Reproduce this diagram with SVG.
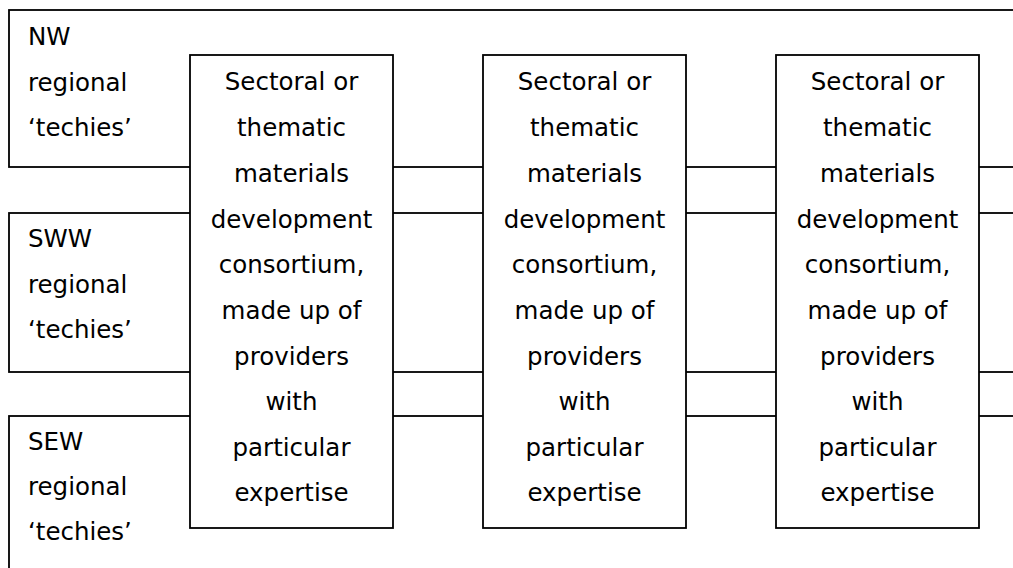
<svg xmlns="http://www.w3.org/2000/svg" width="1013" height="568" viewBox="0 0 1013 568">
  <style>
    .frame { fill: #ffffff; stroke: #000000; stroke-width: 1.8; }
    .lbl { font-family: "DejaVu Sans", Verdana, sans-serif; font-size: 24.5px; fill: #000000; }
    .mid { text-anchor: middle; }
  </style>
  <rect width="1013" height="568" fill="#ffffff"/>

  <!-- regional bands running under the consortium boxes -->
  <g id="band-nw">
    <rect class="frame" x="9" y="10" width="1100" height="157"/>
    <text class="lbl" x="28" y="45">NW</text>
    <text class="lbl" x="28" y="91">regional</text>
    <text class="lbl" x="28" y="136">‘techies’</text>
  </g>
  <g id="band-sww">
    <rect class="frame" x="9" y="213" width="1100" height="159"/>
    <text class="lbl" x="28" y="247">SWW</text>
    <text class="lbl" x="28" y="293">regional</text>
    <text class="lbl" x="28" y="338">‘techies’</text>
  </g>
  <g id="band-sew">
    <rect class="frame" x="9" y="416" width="1100" height="200"/>
    <text class="lbl" x="28" y="450">SEW</text>
    <text class="lbl" x="28" y="495">regional</text>
    <text class="lbl" x="28" y="540">‘techies’</text>
  </g>

  <!-- consortium boxes -->
  <g id="consortium-1">
    <rect class="frame" x="190" y="55" width="203" height="473"/>
    <text class="lbl mid" x="291.5" y="90">Sectoral or</text>
    <text class="lbl mid" x="291.5" y="136">thematic</text>
    <text class="lbl mid" x="291.5" y="182">materials</text>
    <text class="lbl mid" x="291.5" y="228">development</text>
    <text class="lbl mid" x="291.5" y="273">consortium,</text>
    <text class="lbl mid" x="291.5" y="319">made up of</text>
    <text class="lbl mid" x="291.5" y="365">providers</text>
    <text class="lbl mid" x="291.5" y="410">with</text>
    <text class="lbl mid" x="291.5" y="456">particular</text>
    <text class="lbl mid" x="291.5" y="501">expertise</text>
  </g>
  <g id="consortium-2">
    <rect class="frame" x="483" y="55" width="203" height="473"/>
    <text class="lbl mid" x="584.5" y="90">Sectoral or</text>
    <text class="lbl mid" x="584.5" y="136">thematic</text>
    <text class="lbl mid" x="584.5" y="182">materials</text>
    <text class="lbl mid" x="584.5" y="228">development</text>
    <text class="lbl mid" x="584.5" y="273">consortium,</text>
    <text class="lbl mid" x="584.5" y="319">made up of</text>
    <text class="lbl mid" x="584.5" y="365">providers</text>
    <text class="lbl mid" x="584.5" y="410">with</text>
    <text class="lbl mid" x="584.5" y="456">particular</text>
    <text class="lbl mid" x="584.5" y="501">expertise</text>
  </g>
  <g id="consortium-3">
    <rect class="frame" x="776" y="55" width="203" height="473"/>
    <text class="lbl mid" x="877.5" y="90">Sectoral or</text>
    <text class="lbl mid" x="877.5" y="136">thematic</text>
    <text class="lbl mid" x="877.5" y="182">materials</text>
    <text class="lbl mid" x="877.5" y="228">development</text>
    <text class="lbl mid" x="877.5" y="273">consortium,</text>
    <text class="lbl mid" x="877.5" y="319">made up of</text>
    <text class="lbl mid" x="877.5" y="365">providers</text>
    <text class="lbl mid" x="877.5" y="410">with</text>
    <text class="lbl mid" x="877.5" y="456">particular</text>
    <text class="lbl mid" x="877.5" y="501">expertise</text>
  </g>
</svg>
